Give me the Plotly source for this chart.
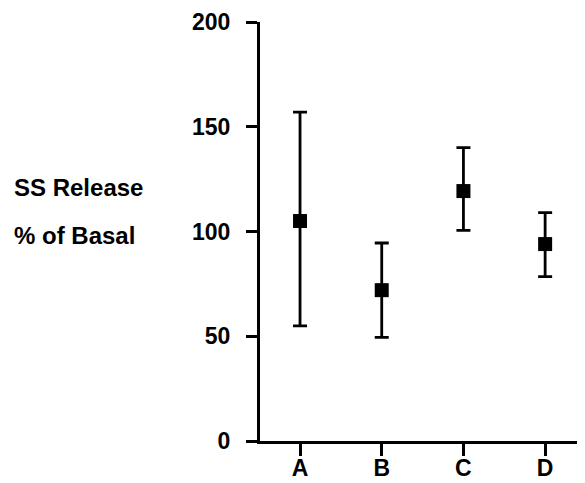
import plotly.graph_objects as go

categories = ["A", "B", "C", "D"]
means = [105, 72, 119.3, 94]
upper = [157, 94.5, 140, 109]
lower = [55, 49.5, 100.5, 78.5]
y_ticks = [0, 50, 100, 150, 200]

err_plus = [u - m for u, m in zip(upper, means)]
err_minus = [m - l for m, l in zip(means, lower)]

fig = go.Figure()
fig.add_trace(go.Scatter(
    x=list(range(len(categories))), y=means, mode="markers",
    marker=dict(symbol="square", size=14, color="black"),
    error_y=dict(type="data", symmetric=False, array=err_plus, arrayminus=err_minus,
                 color="black", thickness=2.8, width=7),
    showlegend=False,
))

font_family = "Liberation Sans, Arial, Helvetica, sans-serif"
tick_font = dict(family=font_family, size=23, color="black", weight="bold")
L, T, B = 252, 14, 42
W, H = 577, 475
plot_w = W - L
plot_h = H - T - B

fig.update_layout(
    width=W, height=H,
    margin=dict(l=L, r=0, t=T, b=B, autoexpand=False),
    plot_bgcolor="white", paper_bgcolor="white",
    xaxis=dict(range=[-0.49, 3.488], tickmode="array", tickvals=list(range(len(categories))),
               ticktext=categories, showgrid=False, zeroline=False,
               showline=True, linecolor="black", linewidth=3,
               ticks="outside", ticklen=12, tickwidth=2.5, tickcolor="black",
               ticklabelstandoff=-8, tickfont=tick_font),
    yaxis=dict(range=[0, 200], tickmode="array", tickvals=y_ticks,
               ticktext=[str(v) for v in y_ticks], showgrid=False, zeroline=False,
               showline=True, linecolor="black", linewidth=3,
               ticks="outside", ticklen=11, tickwidth=2.5, tickcolor="black",
               ticklabelstandoff=11, tickfont=tick_font),
)
for txt, ypx in [("SS Release", 187), ("% of Basal", 236)]:
    fig.add_annotation(text=txt, xref="paper", yref="paper",
                       x=(12 - 260) / plot_w, y=1 - (ypx - 22) / plot_h,
                       xanchor="left", yanchor="middle", showarrow=False,
                       font=dict(family=font_family, size=24, color="black", weight="bold"))

fig.write_html("out.html")
